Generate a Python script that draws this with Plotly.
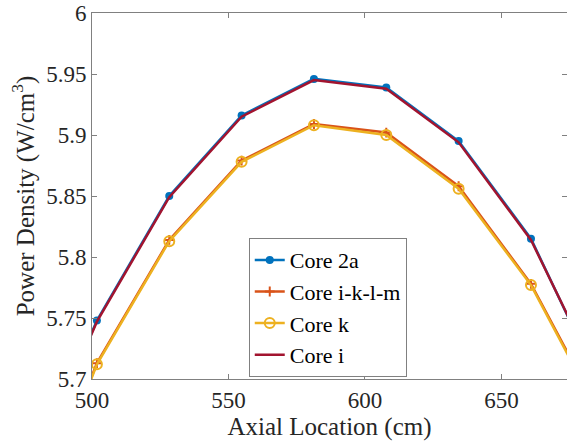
import plotly.graph_objects as go

axial_cm = [475.3, 501.8, 528.3, 554.8, 581.3, 607.8, 634.3, 660.8, 687.3]
core_2a = [5.610, 5.748, 5.850, 5.916, 5.946, 5.939, 5.895, 5.815, 5.690]
core_iklm = [5.560, 5.713, 5.814, 5.879, 5.909, 5.902, 5.858, 5.778, 5.667]
core_k = [5.558, 5.712, 5.813, 5.878, 5.908, 5.900, 5.856, 5.777, 5.665]
core_i = [5.608, 5.747, 5.849, 5.915, 5.945, 5.938, 5.894, 5.814, 5.692]

x_ticks = [500, 550, 600, 650]
y_ticks = [5.7, 5.75, 5.8, 5.85, 5.9, 5.95, 6.0]
y_tick_text = ["5.7", "5.75", "5.8", "5.85", "5.9", "5.95", "6"]

FONT = "Times New Roman, Liberation Serif, serif"
TXT = "#262626"
AX = "#808080"

fig = go.Figure()
fig.add_trace(go.Scatter(x=axial_cm, y=core_2a, name="Core 2a", mode="lines+markers",
                         line=dict(color="#0072BD", width=2.5),
                         marker=dict(symbol="circle", size=8, color="#0072BD")))
fig.add_trace(go.Scatter(x=axial_cm, y=core_iklm, name="Core i-k-l-m", mode="lines+markers",
                         line=dict(color="#D95319", width=2.5),
                         marker=dict(symbol="cross-thin", size=7,
                                     line=dict(color="#D95319", width=2))))
fig.add_trace(go.Scatter(x=axial_cm, y=core_k, name="Core k", mode="lines+markers",
                         line=dict(color="#EDB120", width=2.5),
                         marker=dict(symbol="circle-open", size=10,
                                     line=dict(color="#EDB120", width=2))))
fig.add_trace(go.Scatter(x=axial_cm, y=core_i, name="Core i", mode="lines",
                         line=dict(color="#A2142F", width=2.5)))

fig.update_layout(
    width=567, height=446,
    margin=dict(l=92, r=0, t=13, b=67),
    paper_bgcolor="white", plot_bgcolor="white",
    font=dict(family=FONT, size=22, color=TXT),
    showlegend=True,
    legend=dict(x=0.330, y=0.385, xanchor="left", yanchor="top",
                bgcolor="white", bordercolor=AX, borderwidth=1,
                font=dict(family=FONT, size=22, color="#000000"),
                tracegroupgap=0, itemwidth=30),
)
fig.update_xaxes(range=[500, 674], tickvals=x_ticks, ticktext=[str(v) for v in x_ticks],
                 automargin=False,
                 showgrid=False, zeroline=False, showline=True, linecolor=AX, linewidth=1,
                 mirror="ticks", ticks="inside", ticklen=5, tickcolor=AX,
                 title=dict(text="Axial Location (cm)", font=dict(family=FONT, size=25, color=TXT), standoff=2),
                 tickfont=dict(family=FONT, size=23, color=TXT))
fig.update_yaxes(range=[5.7, 6.0], tickvals=y_ticks, ticktext=y_tick_text,
                 automargin=False,
                 showgrid=False, zeroline=False, showline=True, linecolor=AX, linewidth=1,
                 mirror="ticks", ticks="inside", ticklen=5, tickcolor=AX,
                 title=dict(text="Power Density (W/cm<sup>3</sup>)", font=dict(family=FONT, size=25, color=TXT), standoff=4),
                 tickfont=dict(family=FONT, size=23, color=TXT))

fig.write_html("out.html", config={"displayModeBar": False},
               post_script="document.body.style.margin='0';document.body.style.overflow='hidden';")
